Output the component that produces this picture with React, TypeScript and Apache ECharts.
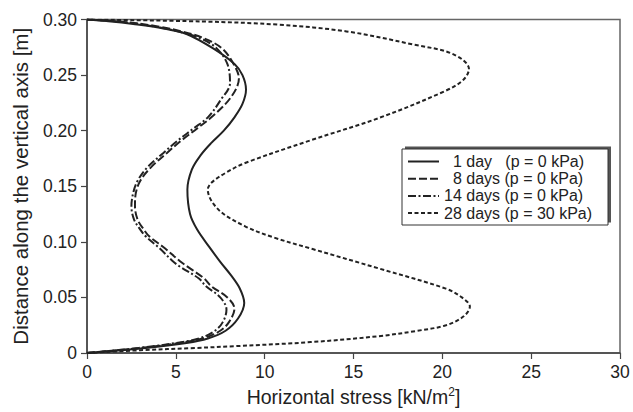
import React, { useEffect, useRef } from "react";
import * as echarts from "echarts";

const seriesNames = [
  "  1 day   (p = 0 kPa)",
  "  8 days (p = 0 kPa)",
  "14 days (p = 0 kPa)",
  "28 days (p = 30 kPa)",
];

const xTicks = [0, 5, 10, 15, 20, 25, 30];
const yTicks = [0, 0.05, 0.1, 0.15, 0.2, 0.25, 0.3];

// 1 day (p = 0 kPa)
const day1Y = [0, 0.0045, 0.009, 0.013, 0.02, 0.031, 0.045, 0.058, 0.07, 0.082, 0.095, 0.111, 0.125, 0.147, 0.165, 0.178, 0.189, 0.2, 0.212, 0.224, 0.237, 0.25, 0.26, 0.274, 0.287, 0.292, 0.296, 0.2985, 0.3];
const day1X = [0, 3.3, 5.6, 6.8, 7.8, 8.5, 8.85, 8.6, 8.1, 7.5, 6.9, 6.2, 5.8, 5.65, 5.9, 6.4, 7.0, 7.7, 8.3, 8.75, 8.95, 8.75, 8.3, 7.1, 5.6, 4.3, 2.6, 1.2, 0];

// 8 days (p = 0 kPa)
const day8Y = [0, 0.0045, 0.009, 0.013, 0.02, 0.028, 0.04, 0.05, 0.06, 0.067, 0.075, 0.083, 0.094, 0.105, 0.111, 0.12, 0.132, 0.144, 0.155, 0.167, 0.18, 0.191, 0.202, 0.212, 0.23, 0.247, 0.26, 0.274, 0.283, 0.289, 0.294, 0.298, 0.3];
const day8X = [0, 3.0, 5.2, 6.5, 7.5, 8.0, 8.3, 7.9, 7.0, 6.6, 5.9, 5.2, 4.4, 3.5, 3.2, 2.85, 2.7, 2.75, 3.0, 3.6, 4.5, 5.3, 6.2, 7.0, 8.1, 8.55, 8.25, 7.6, 6.6, 5.4, 3.9, 2.0, 0];

// 14 days (p = 0 kPa)
const day14Y = [0, 0.0045, 0.009, 0.013, 0.02, 0.028, 0.039, 0.05, 0.06, 0.067, 0.078, 0.083, 0.094, 0.105, 0.111, 0.12, 0.132, 0.144, 0.155, 0.167, 0.18, 0.191, 0.202, 0.212, 0.227, 0.243, 0.26, 0.274, 0.283, 0.289, 0.294, 0.298, 0.3];
const day14X = [0, 2.9, 5.0, 6.3, 7.2, 7.65, 7.85, 7.5, 6.7, 6.3, 5.2, 4.8, 4.1, 3.3, 3.0, 2.65, 2.5, 2.6, 2.85, 3.4, 4.3, 5.1, 6.0, 6.8, 7.5, 8.05, 7.9, 7.3, 6.4, 5.2, 3.7, 1.9, 0];

// 28 days (p = 30 kPa)
const day28Y = [0, 0.0025, 0.0045, 0.0062, 0.0098, 0.0151, 0.02, 0.0249, 0.033, 0.0418, 0.05, 0.0579, 0.0757, 0.0935, 0.104, 0.114, 0.129, 0.1469, 0.1531, 0.162, 0.1709, 0.1914, 0.2118, 0.236, 0.246, 0.2555, 0.2689, 0.2777, 0.2893, 0.2953, 0.2982, 0.3];
const day28X = [0, 3.0, 6.1, 8.4, 12.6, 16.4, 18.6, 20.2, 21.2, 21.55, 21.1, 20.2, 16.5, 12.7, 10.5, 8.9, 7.4, 6.8, 7.0, 7.8, 8.9, 12.6, 16.5, 20.2, 21.2, 21.5, 20.6, 18.3, 14.6, 10.8, 6.5, 0];

const seriesX = [day1X, day8X, day14X, day28X];
const seriesY = [day1Y, day8Y, day14Y, day28Y];
const dashes: (number[] | "solid")[] = ["solid", [8, 3], [8, 2.5, 2, 2.5], [4, 2.5]];

export default function App() {
  const ref = useRef<HTMLDivElement>(null);
  useEffect(() => {
    if (!ref.current) return;
    const chart = echarts.init(ref.current, null, { renderer: "svg" });
    const font = "Liberation Sans, Arial, sans-serif";
    const series = seriesNames.map((name, i) => ({
      name,
      type: "line",
      data: seriesX[i].map((x, k) => [x, seriesY[i][k]]),
      smooth: 0.35,
      showSymbol: false,
      symbol: "none",
      lineStyle: { color: "#222", width: 2, type: dashes[i] },
      itemStyle: { color: "#222" },
      z: 3,
    }));
    chart.setOption({
      animation: false,
      backgroundColor: "#fff",
      textStyle: { fontFamily: font },
      grid: {
        left: 87,
        right: 13,
        top: 19.5,
        bottom: 57.7,
        show: true,
        borderColor: "#666",
        borderWidth: 1.5,
        backgroundColor: "transparent",
      },
      xAxis: {
        type: "value",
        min: xTicks[0],
        max: xTicks[xTicks.length - 1],
        interval: 5,
        name: "Horizontal stress [kN/m{sup|2}]",
        nameLocation: "middle",
        nameGap: 33,
        nameTextStyle: {
          fontSize: 19.5,
          color: "#222",
          fontFamily: font,
          rich: { sup: { fontSize: 12, verticalAlign: "top", padding: [0, 0, 10, 0], color: "#222" } },
        },
        axisLine: { show: true, lineStyle: { color: "#444", width: 1.5 } },
        axisTick: { show: true, length: 6, inside: false, lineStyle: { color: "#444", width: 1.2 } },
        axisLabel: { fontSize: 17.5, color: "#222", margin: 10, fontFamily: font },
        splitLine: { show: false },
      },
      yAxis: {
        type: "value",
        min: yTicks[0],
        max: yTicks[yTicks.length - 1],
        interval: 0.05,
        name: "Distance along the vertical axis [m]",
        nameLocation: "middle",
        nameGap: 56,
        nameTextStyle: { fontSize: 20.5, color: "#222", fontFamily: font },
        axisLine: { show: true, lineStyle: { color: "#444", width: 1.5 } },
        axisTick: { show: true, length: 6, inside: false, lineStyle: { color: "#444", width: 1.2 } },
        axisLabel: {
          fontSize: 17.5,
          color: "#222",
          margin: 10,
          fontFamily: font,
          formatter: (v: number) => (v === 0 ? "0" : v.toFixed(2)),
        },
        splitLine: { show: false },
      },
      legend: {
        orient: "vertical",
        left: 407,
        top: 153.5,
        padding: 0,
        itemGap: 1.2,
        itemWidth: 31,
        itemHeight: 16,
        z: 20,
        data: seriesNames,
        itemStyle: { opacity: 0 },
        textStyle: {
          fontSize: 16,
          color: "#222",
          fontFamily: font,
          lineHeight: 16,
        },
      },
      graphic: [
        {
          type: "rect",
          z: 10,
          shape: { x: 405, y: 146.5, width: 206, height: 76 },
          style: { fill: "#555" },
        },
        {
          type: "rect",
          z: 11,
          shape: { x: 402, y: 149, width: 206, height: 76 },
          style: { fill: "#fff", stroke: "#333", lineWidth: 1 },
        },
      ],
      series,
    });
    return () => chart.dispose();
  }, []);
  return <div ref={ref} style={{ width: 633, height: 412, position: "absolute", left: 0, top: 0 }} />;
}
